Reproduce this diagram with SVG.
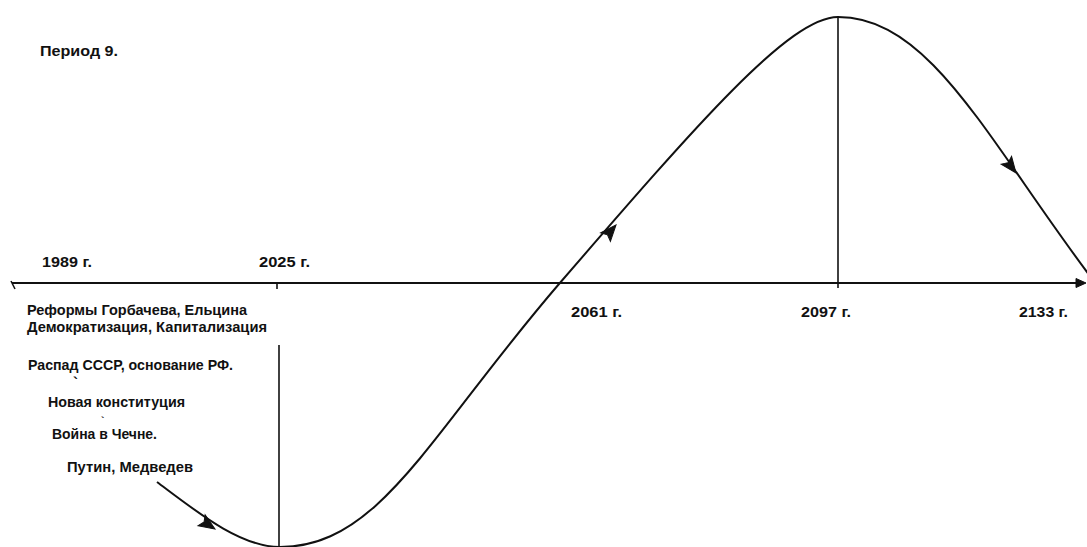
<svg xmlns="http://www.w3.org/2000/svg" width="1087" height="547" viewBox="0 0 1087 547">
<style>
.t{font-family:"Liberation Sans",Arial,sans-serif;font-weight:bold;font-size:15px;fill:#111}
.ln{stroke:#111;stroke-width:2;fill:none}
.thin{stroke:#111;stroke-width:1.6;fill:none}
.ah{fill:#111;stroke:#111;stroke-width:1}
</style>
<defs>
<path id="head" d="M0,0 L-16,-6.5 L-13,0 L-16,6.5 Z"/>
<path id="headS" d="M0,0 L-10,-4.5 L-10,4.5 Z"/>
</defs>
<rect width="1087" height="547" fill="#fff"/>
<g id="title"><text class="t" x="40" y="56" textLength="78" lengthAdjust="spacingAndGlyphs">Период 9.</text></g>
<g id="connectors">
<path class="ln" d="M12,283 H1080"/>
<use href="#headS" class="ah" transform="translate(1086,283)"/>
<path class="thin" d="M11,281 L15,289"/>
<path class="thin" d="M277,283 V289"/>
<path class="thin" d="M279,345 V547"/>
<path class="thin" d="M838,17 V288"/>
<path class="ln" d="M157,482 C197,512 240,547 280,547 C380,547 429,435 559,284 C699,122 790,17 838,17 C930,17 987,139 1090,276"/>
<use href="#head" class="ah" transform="translate(215,529) rotate(33)"/>
<use href="#head" class="ah" transform="translate(616,225) rotate(-49)"/>
<use href="#head" class="ah" transform="translate(1016,173) rotate(53)"/>
</g>
<g id="y1989"><text class="t" x="42" y="267" textLength="50" lengthAdjust="spacingAndGlyphs">1989 г.</text></g>
<g id="y2025"><text class="t" x="259" y="267" textLength="51" lengthAdjust="spacingAndGlyphs">2025 г.</text></g>
<g id="y2061"><text class="t" x="571" y="317" textLength="51" lengthAdjust="spacingAndGlyphs">2061 г.</text></g>
<g id="y2097"><text class="t" x="801" y="317" textLength="50" lengthAdjust="spacingAndGlyphs">2097 г.</text></g>
<g id="y2133"><text class="t" x="1019" y="317" textLength="49" lengthAdjust="spacingAndGlyphs">2133 г.</text></g>
<g id="events">
<text class="t" x="27" y="315" textLength="220" lengthAdjust="spacingAndGlyphs">Реформы Горбачева, Ельцина</text>
<text class="t" x="27" y="332" textLength="240" lengthAdjust="spacingAndGlyphs">Демократизация, Капитализация</text>
<text class="t" x="28" y="370" textLength="205" lengthAdjust="spacingAndGlyphs">Распад СССР, основание РФ.</text>
<text class="t" x="73" y="388">`</text>
<text class="t" x="48" y="407" textLength="137" lengthAdjust="spacingAndGlyphs">Новая конституция</text>
<text class="t" x="101" y="424" style="font-size:10px">`</text>
<text class="t" x="52" y="439" textLength="105" lengthAdjust="spacingAndGlyphs">Война в Чечне.</text>
<text class="t" x="67" y="472" textLength="126" lengthAdjust="spacingAndGlyphs">Путин, Медведев</text>
</g>
</svg>
